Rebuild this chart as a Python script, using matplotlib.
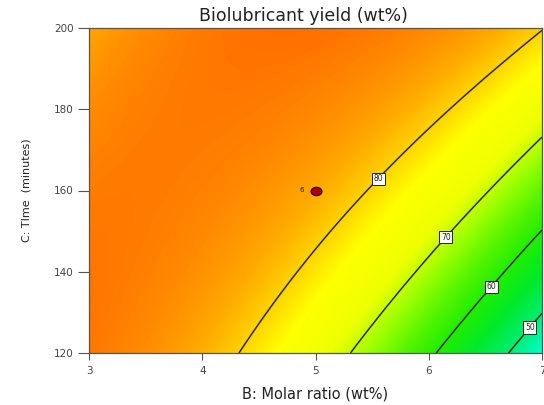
import numpy as np
import matplotlib
matplotlib.use("Agg")
import matplotlib.pyplot as plt
from matplotlib.colors import LinearSegmentedColormap, Normalize
from matplotlib.markers import MarkerStyle
from matplotlib.transforms import Affine2D

# Quadratic response model in coded units (b = (B-5)/2, c = (C-160)/40)
coef_intercept = 83.0
coef_B = -11.6
coef_C = 7.65
coef_BC = 10.0
coef_B2 = -7.0
coef_C2 = -1.85

# Factor ranges
molar_ratio_range = [3, 7]
time_range = [120, 200]

# Contour levels and label anchor points
contour_levels = [50, 60, 70, 80]
label_B = [6.86, 6.52, 6.13, 5.55]
label_C = [127, 137, 149, 163]

# Design (centre) point and replicate count
design_B = [5]
design_C = [160]
design_reps = [6]

# Tick labels
x_ticks = [3, 4, 5, 6, 7]
y_ticks = [120, 140, 160, 180, 200]

# Colour scale stops (response value, RGB)
scale_values = [40, 45, 50, 55, 60, 64, 68, 72, 77, 80, 83, 86, 89, 100]
scale_colors = ["#00fff0", "#00ffc8", "#00ee70", "#00ea28", "#22ee00",
                "#55f500", "#99ff00", "#eeff00", "#ffff00", "#ffd400",
                "#ffaa00", "#ff8c00", "#ff7000", "#ff3000"]


def response(B, C):
    b = (B - 5.0) / 2.0
    c = (C - 160.0) / 40.0
    return (coef_intercept + coef_B * b + coef_C * c + coef_BC * b * c
            + coef_B2 * b ** 2 + coef_C2 * c ** 2)


Bg = np.linspace(molar_ratio_range[0], molar_ratio_range[1], 400)
Cg = np.linspace(time_range[0], time_range[1], 400)
BB, CC = np.meshgrid(Bg, Cg)
ZZ = response(BB, CC)

vmin, vmax = scale_values[0], scale_values[-1]
cmap = LinearSegmentedColormap.from_list(
    "de_scale",
    [((v - vmin) / (vmax - vmin), col) for v, col in zip(scale_values, scale_colors)])

font = "DejaVu Sans"
plt.rcParams["font.family"] = font

fig = plt.figure(figsize=(5.44, 4.05), dpi=100)
ax = fig.add_axes([89 / 544, 1 - 353 / 405, (542 - 89) / 544, (353 - 28) / 405])

ax.imshow(ZZ, extent=[Bg[0], Bg[-1], Cg[0], Cg[-1]], origin="lower",
          aspect="auto", cmap=cmap, norm=Normalize(vmin, vmax),
          interpolation="bilinear", zorder=1)

cs = ax.contour(BB, CC, ZZ, levels=contour_levels, colors="#2a2a18",
                linewidths=1.1, zorder=2)
labels = ax.clabel(cs, fmt="%d", inline=False, fontsize=5.5,
                   manual=list(zip(label_B, label_C)))
for t in labels:
    t.set_rotation(0)
    t.set_color("#222222")
    t.set_bbox(dict(boxstyle="square,pad=0.22", fc="white", ec="#222222", lw=0.7))
    t.set_zorder(5)

dot = MarkerStyle("o", transform=Affine2D().scale(1.3, 1.0))
ax.plot(design_B, design_C, linestyle="none", marker=dot, ms=6.0,
        mfc="#b00000", mec="#300000", mew=0.9, zorder=6)
for bx, cy, n in zip(design_B, design_C, design_reps):
    ax.text(bx - 0.1, cy, str(n), fontsize=5, color="#222222",
            ha="right", va="center", zorder=6)

ax.set_xlim(*molar_ratio_range)
ax.set_ylim(*time_range)
ax.set_xticks(x_ticks)
ax.set_yticks(y_ticks)
ax.tick_params(axis="x", length=5, width=0.8, color="#555555",
               labelsize=7.5, labelcolor="#444444", pad=4)
ax.tick_params(axis="y", length=8, width=0.8, color="#555555",
               labelsize=7.5, labelcolor="#444444", pad=3)
for s in ax.spines.values():
    s.set_color("#555555")
    s.set_linewidth(0.9)

ax.set_title("Biolubricant yield (wt%)", fontsize=12.5, color="#222222",
             pad=5, x=(303 - 89) / 453)
ax.set_xlabel("B: Molar ratio (wt%)", fontsize=10.5, color="#222222", labelpad=8)
ax.set_ylabel("C: TIme  (minutes)", fontsize=8, color="#222222", labelpad=16)

fig.savefig("out.png", dpi=100)
